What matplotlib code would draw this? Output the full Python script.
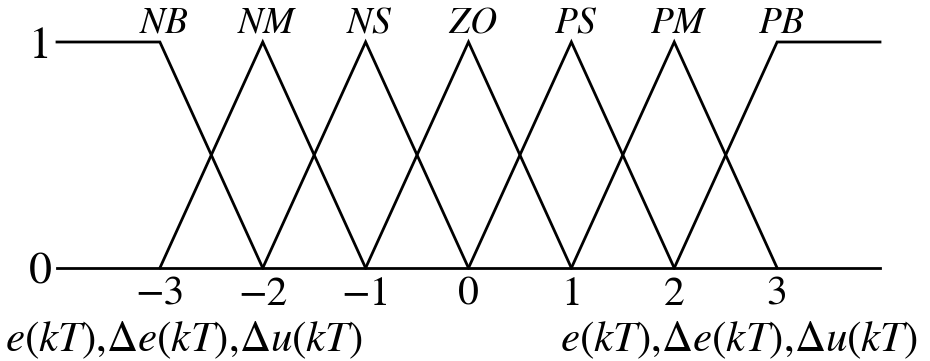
import matplotlib
matplotlib.use('Agg')
import matplotlib.pyplot as plt

# 模糊集合：语言变量与中心点
labels = ['NB', 'NM', 'NS', 'ZO', 'PS', 'PM', 'PB']
centers = [-3, -2, -1, 0, 1, 2, 3]
tick_labels = ['\u22123', '\u22122', '\u22121', '0', '1', '2', '3']
x_min, x_max = -4, 4
var_name = r'$e(kT){,}\Delta e(kT){,}\Delta u(kT)$'

plt.rcParams['font.family'] = ['STIXGeneral', 'DejaVu Serif']
plt.rcParams['mathtext.fontset'] = 'stix'

fig = plt.figure(figsize=(9.3, 3.61), dpi=100)
ax = fig.add_axes([57 / 930, 93 / 361, 823 / 930, 226 / 361])

lw = 2.0
for i, (name, c) in enumerate(zip(labels, centers)):
    # 两端为梯形（饱和），中间为三角形
    if i == 0:
        xs, ys = [x_min, c, c + 1], [1, 1, 0]
    elif i == len(labels) - 1:
        xs, ys = [c - 1, c, x_max], [0, 1, 1]
    else:
        xs, ys = [c - 1, c, c + 1], [0, 1, 0]
    ax.plot(xs, ys, color='black', lw=lw, solid_joinstyle='miter', clip_on=False)
    ax.text(c + 0.04, 1.04, f'${name}$', ha='center', va='baseline', fontsize=27)

ax.set_xlim(x_min, x_max)
ax.set_ylim(0, 1)
for side in ['top', 'right', 'left']:
    ax.spines[side].set_visible(False)
ax.spines['bottom'].set_linewidth(lw)

ax.set_xticks(centers)
ax.set_xticklabels(tick_labels, fontsize=30)
ax.set_yticks([0, 1])
ax.set_yticklabels(['0', '1'], fontsize=33)
ax.tick_params(axis='x', length=0, pad=6)
ax.tick_params(axis='y', length=0, pad=4)

fig.text(5 / 930, 1 - 340 / 361, var_name, ha='left', va='center', fontsize=31)
fig.text(918 / 930, 1 - 340 / 361, var_name, ha='right', va='center', fontsize=31)

fig.savefig('out.png', dpi=100, facecolor='white')
